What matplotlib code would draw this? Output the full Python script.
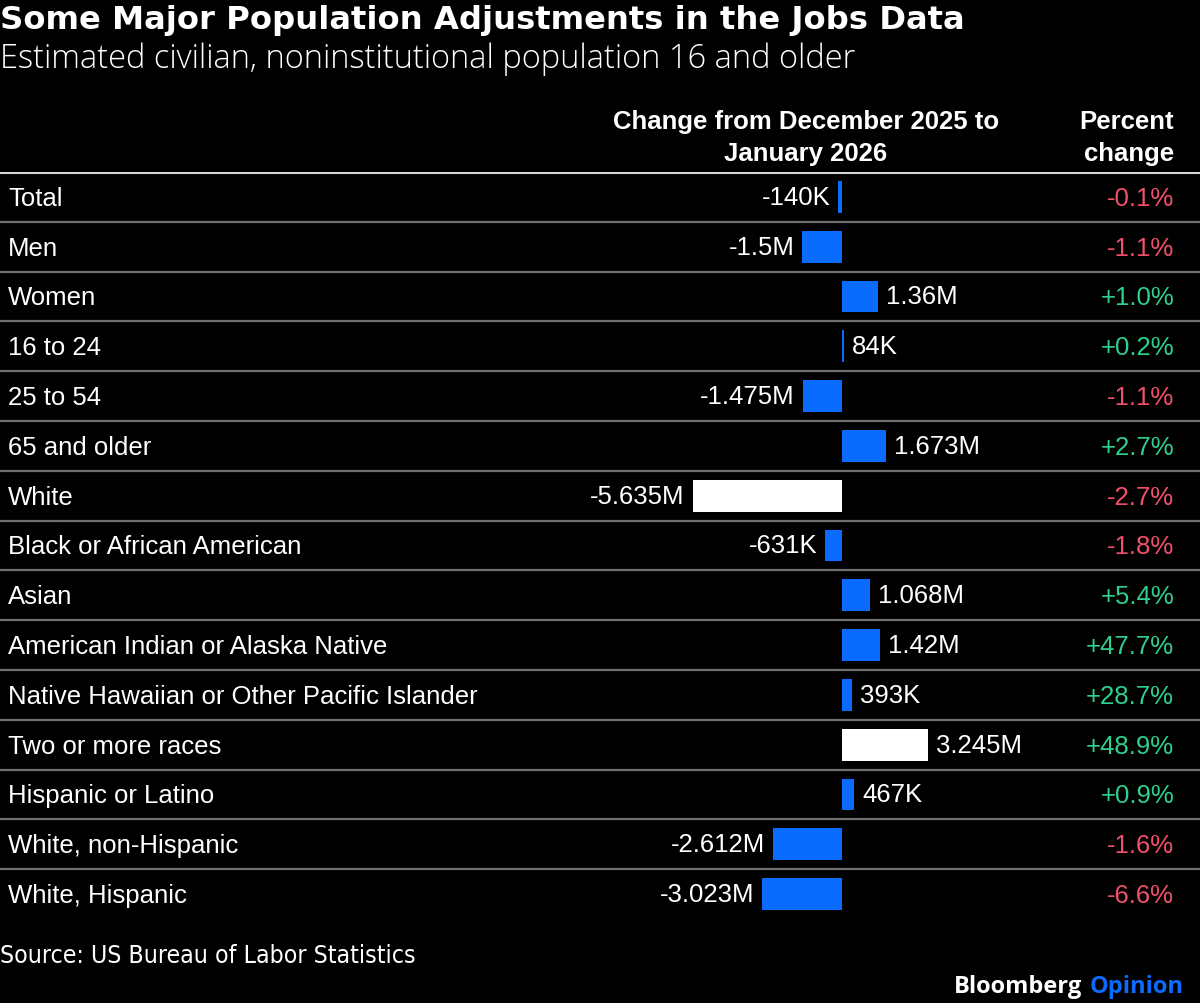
import matplotlib
matplotlib.use("Agg")
import matplotlib.pyplot as plt

# data
categories = ["Total", "Men", "Women", "16 to 24", "25 to 54", "65 and older",
              "White", "Black or African American", "Asian",
              "American Indian or Alaska Native",
              "Native Hawaiian or Other Pacific Islander", "Two or more races",
              "Hispanic or Latino", "White, non-Hispanic", "White, Hispanic"]
change_m = [-0.140, -1.5, 1.36, 0.084, -1.475, 1.673, -5.635, -0.631, 1.068,
            1.42, 0.393, 3.245, 0.467, -2.612, -3.023]
change_labels = ["-140K", "-1.5M", "1.36M", "84K", "-1.475M", "1.673M",
                 "-5.635M", "-631K", "1.068M", "1.42M", "393K", "3.245M",
                 "467K", "-2.612M", "-3.023M"]
pct_change = [-0.1, -1.1, 1.0, 0.2, -1.1, 2.7, -2.7, -1.8, 5.4, 47.7, 28.7,
              48.9, 0.9, -1.6, -6.6]
highlight = ["White", "Two or more races"]

W, H = 1200, 1004
BG = "black"
BLUE = "#0A6CFF"
RED = "#F2506A"
GREEN = "#2FD08E"
LABEL_FONT = "Liberation Sans"
FS = 18.5

fig = plt.figure(figsize=(W / 100, H / 100), dpi=100, facecolor=BG)


def fx(px):
    return px / W


def fy(py):
    return 1 - py / H


# table area: header rule at y=173 px, rows 49.8 px tall
top_px, row_h = 173, 49.8
n = len(categories)
bottom_px = top_px + row_h * n
ax = fig.add_axes([0, fy(bottom_px), 1, (bottom_px - top_px) / H])
ax.set_facecolor(BG)
px_per_m = 26.5
zero_px = 842
ax.set_xlim(-zero_px / px_per_m, (W - zero_px) / px_per_m)
ax.set_ylim(n - 0.5, -0.5)
ax.axis("off")

rows = list(range(n))
colors = ["white" if c in highlight else BLUE for c in categories]
ax.barh(rows, change_m, height=0.64, color=colors, linewidth=0)

# row rules
ax.axhline(-0.5, color="#d8d8d8", lw=2.2)
for i in range(n - 1):
    ax.axhline(i + 0.5, color="#707070", lw=1.6)

ytr = ax.get_yaxis_transform()
for i, (cat, v, lab, p) in enumerate(zip(categories, change_m, change_labels, pct_change)):
    ax.text(fx(8), i + 0.02, cat, transform=ytr, color="white", fontsize=FS,
            family=LABEL_FONT, va="center", ha="left")
    pad = 8 / px_per_m
    if v < 0:
        ax.text(v - pad, i, lab, color="white", fontsize=FS, family=LABEL_FONT,
                va="center", ha="right")
    else:
        ax.text(v + pad, i, lab, color="white", fontsize=FS, family=LABEL_FONT,
                va="center", ha="left")
    ptxt = f"{p:+.1f}%"
    ax.text(fx(1174), i + 0.02, ptxt, transform=ytr, color=RED if p < 0 else GREEN,
            fontsize=FS, family=LABEL_FONT, va="center", ha="right")

# header
fig.text(fx(806), fy(138), "Change from December 2025 to\nJanuary 2026",
         color="white", fontsize=FS, family=LABEL_FONT, weight="bold",
         ha="center", va="center", linespacing=1.4)
fig.text(fx(1174), fy(138), "Percent\nchange", color="white", fontsize=FS,
         family=LABEL_FONT, weight="bold", ha="right", va="center",
         linespacing=1.4)

# titles
fig.text(0, fy(21), "Some Major Population Adjustments in the Jobs Data",
         color="white", fontsize=23.2, family="DejaVu Sans", weight="bold",
         ha="left", va="center")
fig.text(0, fy(59), "Estimated civilian, noninstitutional population 16 and older",
         color="white", fontsize=23.5, family="Open Sans", weight="light",
         ha="left", va="center")

# footer
fig.text(0, fy(956), "Source: US Bureau of Labor Statistics", color="white",
         fontsize=17.8, family="DejaVu Sans", stretch="condensed",
         ha="left", va="center")
op = fig.text(fx(1184), fy(987), "Opinion", color=BLUE, fontsize=17,
              family="Open Sans", weight="bold", ha="right", va="center")
fig.canvas.draw()
op_left = op.get_window_extent().x0
fig.text((op_left - 8) / W, fy(987), "Bloomberg", color="white", fontsize=17,
         family="Open Sans", weight="bold", ha="right", va="center")

fig.savefig("out.png", dpi=100, facecolor=BG)
